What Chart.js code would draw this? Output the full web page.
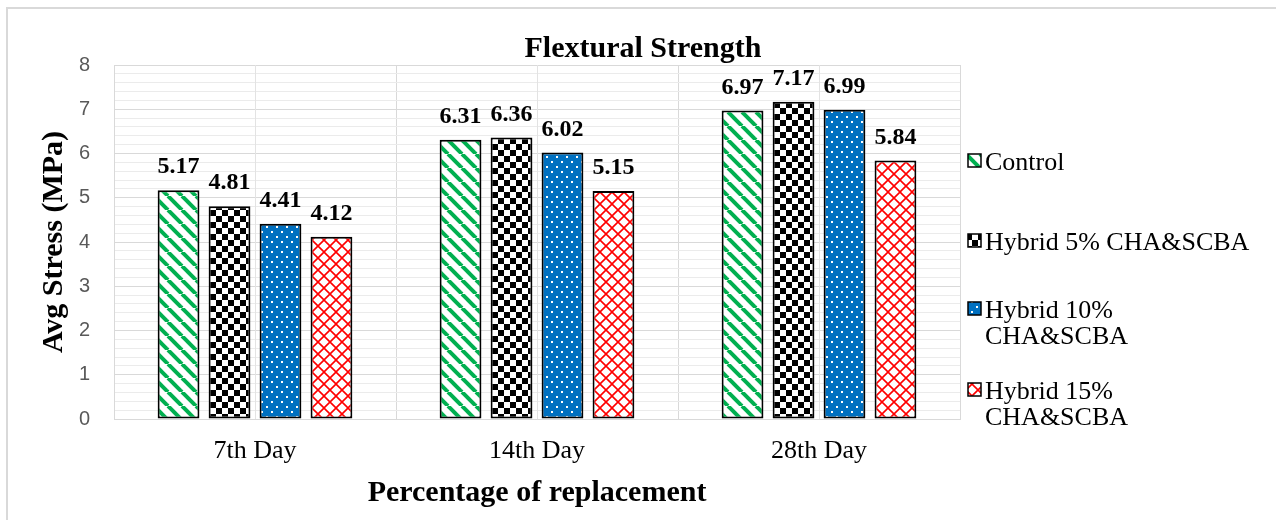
<!DOCTYPE html>
<html>
<head>
<meta charset="utf-8">
<script src="https://cdn.jsdelivr.net/npm/chart.js@4.4.1/dist/chart.umd.min.js"></script>
<style>
  html, body { margin: 0; padding: 0; background: #fff; }
  #wrap { position: relative; width: 1276px; height: 520px; }
</style>
</head>
<body>
<div id="wrap"><canvas id="flexChart"></canvas></div>
<script>
// data
const categories = ['7th Day', '14th Day', '28th Day'];
const seriesNames = ['Control', 'Hybrid 5% CHA&SCBA', 'Hybrid 10% CHA&SCBA', 'Hybrid 15% CHA&SCBA'];
const controlVals = [5.17, 6.31, 6.97];
const hybrid5Vals = [4.81, 6.36, 7.17];
const hybrid10Vals = [4.41, 6.02, 6.99];
const hybrid15Vals = [4.12, 5.15, 5.84];
const yTickLabels = [0, 1, 2, 3, 4, 5, 6, 7, 8];

const SERIF = '"Liberation Serif", "Times New Roman", serif';

// --- fill patterns (Excel style) ---
function makePattern(size, draw) {
    const c = document.createElement('canvas');
    c.width = size; c.height = size;
    const g = c.getContext('2d');
    draw(g, size);
    return g.createPattern(c, 'repeat');
}

const stripeFill = makePattern(14, (g, s) => {
    g.fillStyle = '#fff'; g.fillRect(0, 0, s, s);
    g.strokeStyle = '#00b050'; g.lineWidth = 4;
    [-s, 0, s].forEach(k => {
        g.beginPath(); g.moveTo(k, 0); g.lineTo(k + s, s); g.stroke();
    });
});

const checkerFill = makePattern(12, (g, s) => {
    g.fillStyle = '#fff'; g.fillRect(0, 0, s, s);
    g.fillStyle = '#000';
    g.fillRect(0, 0, s / 2, s / 2);
    g.fillRect(s / 2, s / 2, s / 2, s / 2);
});

const dotFill = makePattern(10, (g, s) => {
    g.fillStyle = '#0070c0'; g.fillRect(0, 0, s, s);
    g.fillStyle = '#fff';
    g.fillRect(1, 1, 2, 2);
    g.fillRect(6, 6, 2, 2);
});

const latticeFill = makePattern(12, (g, s) => {
    g.fillStyle = '#fff'; g.fillRect(0, 0, s, s);
    g.strokeStyle = '#ff0000'; g.lineWidth = 1.6;
    g.beginPath();
    g.moveTo(0, 0); g.lineTo(s, s);
    g.moveTo(s, 0); g.lineTo(0, s);
    g.stroke();
});

const fills = [stripeFill, checkerFill, dotFill, latticeFill];
const seriesVals = [controlVals, hybrid5Vals, hybrid10Vals, hybrid15Vals];

// outer frame, chart title, axis titles
const framePlugin = {
    id: 'frame',
    beforeDraw(chart) {
        const ctx = chart.ctx;
        ctx.save();
        ctx.fillStyle = '#fff';
        ctx.fillRect(0, 0, chart.width, chart.height);
        ctx.strokeStyle = '#d9d9d9';
        ctx.lineWidth = 2;
        ctx.beginPath();
        ctx.moveTo(7, chart.height); ctx.lineTo(7, 8); ctx.lineTo(chart.width, 8);
        ctx.stroke();
        ctx.restore();
    },
    afterDraw(chart) {
        const ctx = chart.ctx;
        const area = chart.chartArea;
        ctx.save();
        ctx.fillStyle = '#000';
        ctx.font = 'bold 30px ' + SERIF;
        ctx.textAlign = 'center';
        ctx.textBaseline = 'alphabetic';
        ctx.fillText('Flextural Strength', 643, 57);
        ctx.fillText('Percentage of replacement', (area.left + area.right) / 2, 501);
        ctx.translate(62, (area.top + area.bottom) / 2);
        ctx.rotate(-Math.PI / 2);
        ctx.fillText('Avg Stress (MPa)', 0, 0);
        ctx.restore();
    }
};

// extra vertical gridlines through the category centres
const centerLines = {
    id: 'centerLines',
    beforeDatasetsDraw(chart) {
        const ctx = chart.ctx;
        const x = chart.scales.x;
        const area = chart.chartArea;
        ctx.save();
        ctx.strokeStyle = '#e3e3e3';
        ctx.lineWidth = 1;
        categories.forEach((c, i) => {
            const px = Math.round(x.getPixelForValue(i)) + 0.5;
            ctx.beginPath(); ctx.moveTo(px, area.top); ctx.lineTo(px, area.bottom); ctx.stroke();
        });
        ctx.restore();
    }
};

// value labels over the bars
const valueLabels = {
    id: 'valueLabels',
    afterDatasetsDraw(chart) {
        const ctx = chart.ctx;
        ctx.save();
        ctx.fillStyle = '#000';
        ctx.font = 'bold 24px ' + SERIF;
        ctx.textAlign = 'center';
        ctx.textBaseline = 'alphabetic';
        chart.data.datasets.forEach((ds, di) => {
            chart.getDatasetMeta(di).data.forEach((bar, i) => {
                ctx.fillText(ds.data[i].toFixed(2), bar.x, bar.y - 17);
            });
        });
        ctx.restore();
    }
};

// legend on the right, wrapping long names like Excel does
function wrapText(ctx, text, maxW) {
    const words = text.split(' ');
    const lines = [];
    let line = '';
    words.forEach(w => {
        const test = line ? line + ' ' + w : w;
        if (ctx.measureText(test).width > maxW && line) {
            lines.push(line); line = w;
        } else {
            line = test;
        }
    });
    lines.push(line);
    return lines;
}

const legendBaselines = [170, 250, 318, 399];
const sideLegend = {
    id: 'sideLegend',
    afterDraw(chart) {
        const ctx = chart.ctx;
        ctx.save();
        ctx.font = '26px ' + SERIF;
        ctx.textBaseline = 'alphabetic';
        ctx.textAlign = 'left';
        chart.data.datasets.forEach((ds, i) => {
            const base = legendBaselines[i];
            ctx.fillStyle = ds.backgroundColor;
            ctx.fillRect(968, base - 16, 13, 13);
            ctx.strokeStyle = '#000';
            ctx.lineWidth = 1.5;
            ctx.strokeRect(968, base - 16, 13, 13);
            ctx.fillStyle = '#000';
            wrapText(ctx, ds.label, 272).forEach((ln, k) => {
                ctx.fillText(ln, 985, base + k * 26);
            });
        });
        ctx.restore();
    }
};

const ctx = document.getElementById('flexChart').getContext('2d');
const chart = new Chart(ctx, {
    type: 'bar',
    data: {
        labels: categories,
        datasets: seriesNames.map((name, i) => ({
            label: name,
            data: seriesVals[i],
            backgroundColor: fills[i],
            borderColor: '#000',
            borderWidth: 2,
            borderSkipped: false
        }))
    },
    options: {
        responsive: true,
        maintainAspectRatio: false,
        animation: false,
        layout: { padding: { left: 0, right: 316, top: 65, bottom: 0 } },
        datasets: { bar: { categoryPercentage: 0.723, barPercentage: 0.82 } },
        plugins: {
            legend: { display: false },
            title: { display: false },
            tooltip: { enabled: false }
        },
        scales: {
            x: {
                grid: { color: '#d9d9d9', drawTicks: false },
                border: { color: '#d9d9d9' },
                ticks: { color: '#000', font: { family: SERIF, size: 26 }, padding: 17 },
                afterFit(s) { s.height = 101; }
            },
            y: {
                min: 0,
                max: 8,
                afterBuildTicks(s) {
                    const t = [];
                    for (let i = 0; i <= 40; i++) t.push({ value: i / 5 });
                    s.ticks = t;
                },
                ticks: {
                    autoSkip: false,
                    color: '#595959',
                    font: { family: '"Liberation Sans", Arial, sans-serif', size: 20 },
                    padding: 24,
                    callback: v => yTickLabels.includes(v) ? String(v) : ''
                },
                grid: {
                    drawTicks: false,
                    color: c => (c.tick && c.tick.value % 1 === 0) ? '#d9d9d9' : '#ebebeb'
                },
                border: { color: '#d9d9d9' },
                afterFit(s) { s.width = 114; }
            }
        }
    },
    plugins: [framePlugin, centerLines, valueLabels, sideLegend]
});
</script>
</body>
</html>
